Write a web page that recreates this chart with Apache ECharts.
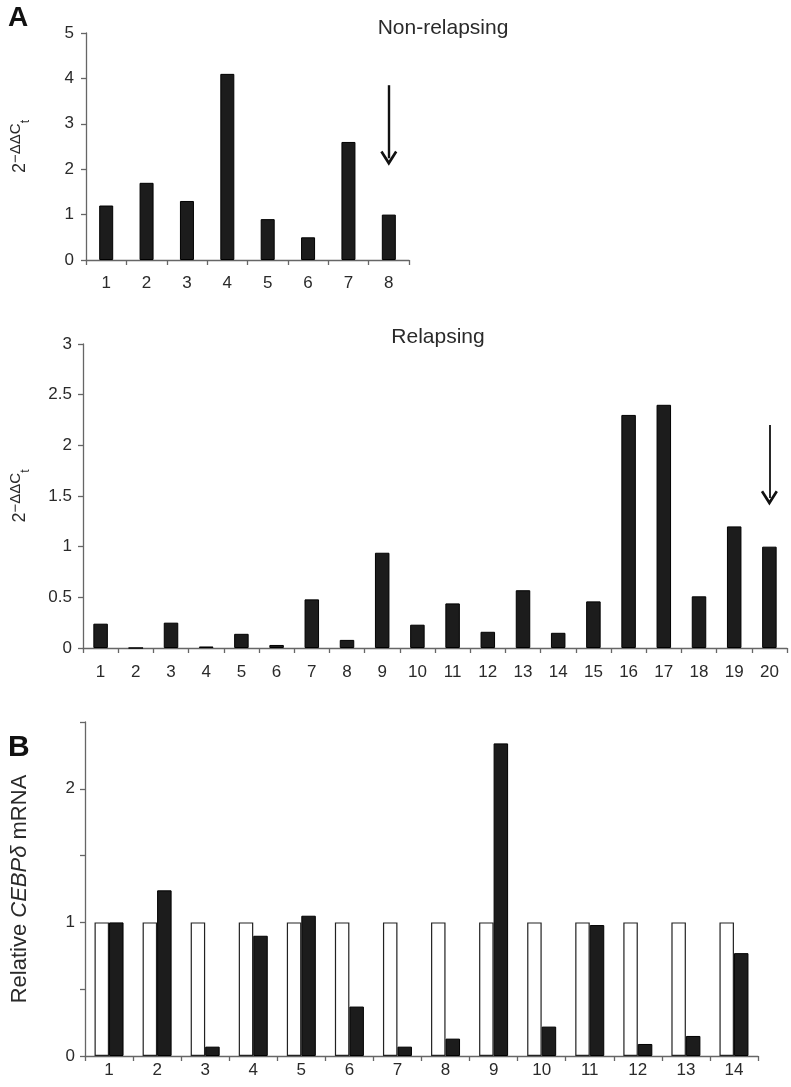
<!DOCTYPE html>
<html>
<head>
<meta charset="utf-8">
<script src="https://cdn.jsdelivr.net/npm/echarts@6/dist/echarts.min.js"></script>
<style>
html,body{margin:0;padding:0;background:#fff;}
#chart{width:791px;height:1087px;}
</style>
</head>
<body>
<div id="chart"></div>
<script>
// ---- data ----
var nonRelapsingCats = ['1','2','3','4','5','6','7','8'];
var nonRelapsingVals = [1.2, 1.7, 1.3, 4.1, 0.9, 0.5, 2.6, 1.0];

var relapsingCats = ['1','2','3','4','5','6','7','8','9','10','11','12','13','14','15','16','17','18','19','20'];
var relapsingVals = [0.24, 0, 0.25, 0.015, 0.14, 0.03, 0.48, 0.08, 0.94, 0.23, 0.44, 0.16, 0.57, 0.15, 0.46, 2.30, 2.40, 0.51, 1.20, 1.00];

var cebpCats = ['1','2','3','4','5','6','7','8','9','10','11','12','13','14'];
var cebpControl = [1, 1, 1, 1, 1, 1, 1, 1, 1, 1, 1, 1, 1, 1];
var cebpTreated = [1.0, 1.24, 0.07, 0.9, 1.05, 0.37, 0.07, 0.13, 2.34, 0.22, 0.98, 0.09, 0.15, 0.77];

// arrows: [category index, start value, end value]
var arrowTop = [7, 3.85, 2.24];
var arrowBottom = [19, 2.2, 1.48];

var FONT = 'Liberation Sans, Arial, Helvetica, sans-serif';
var TXT = '#2a2a2a';
var AX = '#666';

var chevron = 'path://M5,0 L10,8.6 L8.7,9.6 L5,3.4 L1.3,9.6 L0,8.6 Z';

function xAx(gridIndex, cats, margin) {
  return {
    type: 'category', gridIndex: gridIndex, data: cats,
    axisLine: {lineStyle: {color: AX, width: 1.3}},
    axisTick: {show: true, length: 5, lineStyle: {color: AX, width: 1.3}},
    axisLabel: {color: TXT, fontSize: 17, fontFamily: FONT, margin: margin},
    splitLine: {show: false}
  };
}

var ylabelRich = {
  a: {fontSize: 18, fontFamily: FONT, color: TXT},
  b: {fontSize: 15, fontFamily: FONT, color: TXT, verticalAlign: 'top', lineHeight: 24},
  c: {fontSize: 12, fontFamily: FONT, color: TXT, verticalAlign: 'bottom', lineHeight: 16}
};

function arrowMark(a, w) {
  return {
    silent: true,
    symbol: ['none', chevron],
    symbolSize: [17, 15],
    lineStyle: {color: '#111', width: w, type: 'solid'},
    itemStyle: {color: '#111'},
    label: {show: false},
    emphasis: {disabled: true},
    data: [[{coord: [a[0], a[1]]}, {coord: [a[0], a[2]]}]]
  };
}

var option = {
  animation: false,
  backgroundColor: '#fff',
  textStyle: {fontFamily: FONT},
  grid: [
    {left: 86, top: 33, width: 323, height: 227},
    {left: 83, top: 344, width: 704, height: 304},
    {left: 85, top: 722, width: 673, height: 334}
  ],
  xAxis: [
    xAx(0, nonRelapsingCats, 15),
    xAx(1, relapsingCats, 16),
    xAx(2, cebpCats, 6)
  ],
  yAxis: [
    {
      type: 'value', gridIndex: 0, min: 0, max: 5, interval: 1,
      axisLine: {show: true, lineStyle: {color: AX, width: 1.3}},
      axisTick: {show: true, length: 5, lineStyle: {color: AX, width: 1.3}},
      axisLabel: {color: TXT, fontSize: 17, fontFamily: FONT, margin: 12},
      splitLine: {show: false},
      name: '{a|2}{b|\u2212\u0394\u0394C}{c|t}',
      nameLocation: 'middle', nameGap: 54, nameRotate: 90,
      nameTextStyle: {fontSize: 18, rich: ylabelRich}
    },
    {
      type: 'value', gridIndex: 1, min: 0, max: 3, interval: 0.5,
      axisLine: {show: true, lineStyle: {color: AX, width: 1.3}},
      axisTick: {show: true, length: 5, lineStyle: {color: AX, width: 1.3}},
      axisLabel: {color: TXT, fontSize: 17, fontFamily: FONT, margin: 11},
      splitLine: {show: false},
      name: '{a|2}{b|\u2212\u0394\u0394C}{c|t}',
      nameLocation: 'middle', nameGap: 51, nameRotate: 90,
      nameTextStyle: {fontSize: 18, rich: ylabelRich}
    },
    {
      type: 'value', gridIndex: 2, min: 0, max: 2.5, interval: 0.5,
      axisLine: {show: true, lineStyle: {color: AX, width: 1.3}},
      axisTick: {show: true, length: 5, lineStyle: {color: AX, width: 1.3}},
      axisLabel: {color: TXT, fontSize: 17, fontFamily: FONT, margin: 10,
        formatter: function (v) { return (v % 1 === 0) ? String(v) : ''; }},
      splitLine: {show: false},
      name: '{n|Relative }{i|CEBP\u03b4}{n| mRNA}',
      nameLocation: 'middle', nameGap: 54, nameRotate: 90,
      nameTextStyle: {fontSize: 22, rich: {
        n: {fontSize: 22, fontFamily: FONT, color: TXT},
        i: {fontSize: 22, fontFamily: FONT, color: TXT, fontStyle: 'italic'}
      }}
    }
  ],
  graphic: [
    {type: 'text', left: 8, top: 4, style: {text: 'A', font: 'bold 28px ' + FONT, fill: '#111'}},
    {type: 'text', left: 8, top: 733, style: {text: 'B', font: 'bold 30px ' + FONT, fill: '#111'}},
    {type: 'text', x: 443, y: 18, style: {text: 'Non-relapsing', font: '21px ' + FONT, fill: TXT, textAlign: 'center', textVerticalAlign: 'top'}},
    {type: 'text', x: 438, y: 327, style: {text: 'Relapsing', font: '21px ' + FONT, fill: TXT, textAlign: 'center', textVerticalAlign: 'top'}}
  ],
  series: [
    {
      type: 'bar', xAxisIndex: 0, yAxisIndex: 0, data: nonRelapsingVals,
      barWidth: 14,
      itemStyle: {color: '#1c1c1c', borderColor: '#000', borderWidth: 1},
      markLine: arrowMark(arrowTop, 2.4)
    },
    {
      type: 'bar', xAxisIndex: 1, yAxisIndex: 1, data: relapsingVals,
      barWidth: 14.5,
      itemStyle: {color: '#1c1c1c', borderColor: '#000', borderWidth: 1},
      markLine: arrowMark(arrowBottom, 1.8)
    },
    {
      type: 'bar', xAxisIndex: 2, yAxisIndex: 2, data: cebpControl,
      barWidth: 14.5, barGap: '0%',
      itemStyle: {color: '#fff', borderColor: '#222', borderWidth: 1.2}
    },
    {
      type: 'bar', xAxisIndex: 2, yAxisIndex: 2, data: cebpTreated,
      barWidth: 14.5, barGap: '0%',
      itemStyle: {color: '#1c1c1c', borderColor: '#000', borderWidth: 1}
    }
  ]
};

var chart = echarts.init(document.getElementById('chart'), null, {renderer: 'canvas'});
chart.setOption(option);
</script>
</body>
</html>
